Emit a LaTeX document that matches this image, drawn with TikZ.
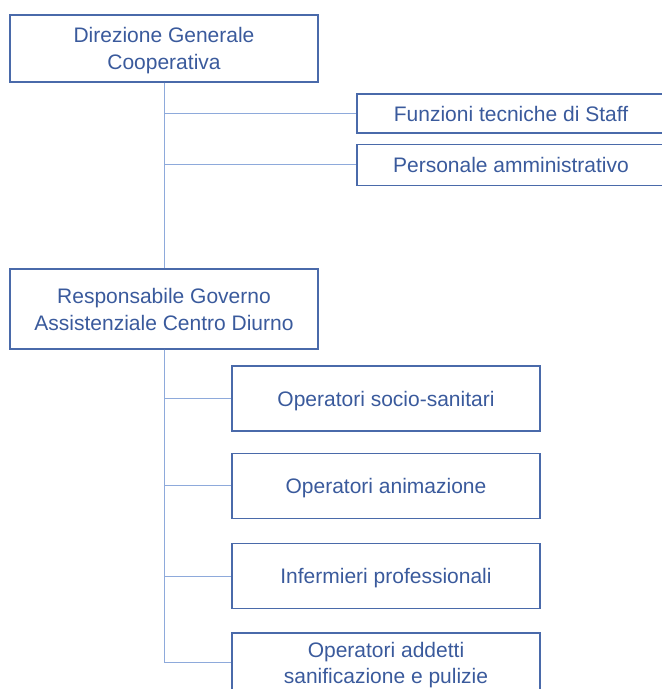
\documentclass[tikz,border=0pt]{standalone}
\usepackage{fontspec}
\setmainfont{Liberation Sans}
\usetikzlibrary{positioning}

\definecolor{boxblue}{HTML}{4A6AAA}
\definecolor{txtblue}{HTML}{3A5A9C}
\definecolor{linkblue}{HTML}{8EAADB}

\begin{document}
\begin{tikzpicture}[
    x=1pt, y=-1pt,
    unit/.style={draw=boxblue, line width=1.3pt, text=txtblue, align=center, inner sep=0pt,
      font=\fontsize{21}{27}\selectfont, text depth=0pt, minimum width=308pt},
    link/.style={draw=linkblue, line width=0.9pt}
  ]
  \useasboundingbox (0,0) rectangle (662,689);

%% top level and its staff offices
    \node[unit, minimum height=67pt] (dir) at (164,48.5) {Direzione Generale\\Cooperativa};
    \node[unit, minimum height=39pt] (staff) at (511,113.5) {Funzioni tecniche di Staff};
    \node[unit, minimum height=41pt, below=10pt of staff] (amm) {Personale amministrativo};

%% centre manager and the operative units
    \node[unit, minimum height=80pt] (resp) at (164,309) {Responsabile Governo\\Assistenziale Centro Diurno};
    \node[unit, minimum height=65pt] (oss) at (386,398.5) {Operatori socio-sanitari};
    \node[unit, minimum height=65pt, below=21pt of oss] (anim) {Operatori animazione};
    \node[unit, minimum height=65pt, below=24pt of anim] (inf) {Infermieri professionali};
    \node[unit, minimum height=60pt, font=\fontsize{21}{26}\selectfont, below=23pt of inf] (san) {Operatori addetti\\sanificazione e pulizie};

    \draw[link] (dir.south) -- (resp.north);
    \draw[link] (dir.south) |- (staff.west);
    \draw[link] (dir.south) |- (amm.west);
    \foreach \u in {oss, anim, inf, san}
      \draw[link] (resp.south) |- (\u.west);

\end{tikzpicture}
\end{document}
